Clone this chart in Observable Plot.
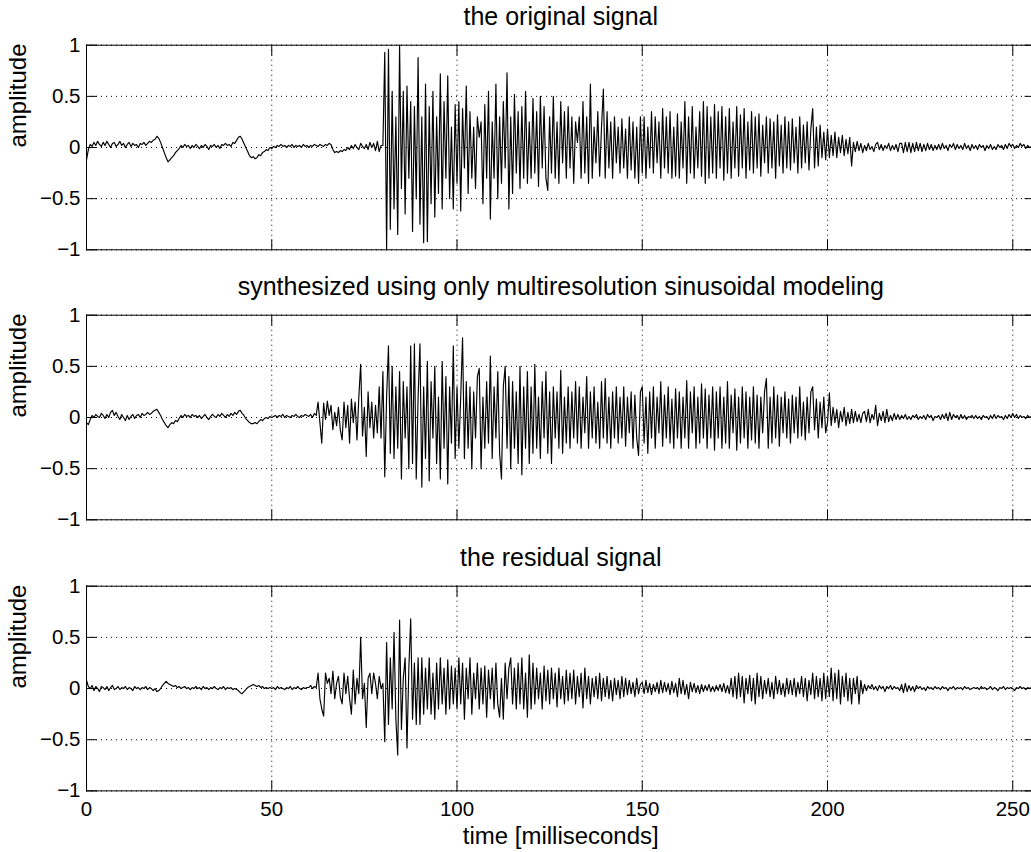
<!DOCTYPE html>
<html>
<head>
<meta charset="utf-8">
<script src="https://cdn.jsdelivr.net/npm/d3@7"></script>
<script src="https://cdn.jsdelivr.net/npm/@observablehq/plot@0.6"></script>
<style>
html, body { margin: 0; padding: 0; background: #fff; }
#fig { position: relative; width: 1031px; height: 852px; overflow: hidden; background: #fff; }
.panel { position: absolute; left: 0; }
</style>
</head>
<body>
<div id="fig"></div>
<script>
// ---- chart text ----
const titles = [
  "the original signal",
  "synthesized using only multiresolution sinusoidal modeling",
  "the residual signal"
];
const yLabel = "amplitude";
const xLabel = "time [milliseconds]";
const xTicks = [0, 50, 100, 150, 200, 250];
const yTicks = [-1, -0.5, 0, 0.5, 1];
const xDomain = [0, 256];
const yDomain = [-1, 1];
const sampleStepMs = 0.5; // one value every 0.5 ms

// ---- waveform values (one row = 10 ms) ----
const original = [
  -0.12,-0.02,0.03,0.01,0.05,0.02,0.06,0.03,0.01,0.05,0.02,0.06,0.03,0.0,0.04,0.05,0.01,0.03,0.06,0.02,
  0.04,0.0,0.03,0.05,0.01,0.04,0.02,0.03,0.0,0.04,0.03,0.05,0.02,0.04,0.06,0.05,0.07,0.08,0.11,0.09,
  0.05,0.0,-0.05,-0.1,-0.14,-0.12,-0.1,-0.08,-0.05,-0.03,-0.01,0.02,0.0,0.03,0.01,0.02,-0.01,0.02,0.0,0.03,
  0.01,-0.01,0.02,0.0,0.03,0.01,-0.02,0.02,0.01,0.03,0.0,0.02,-0.01,0.03,0.02,0.04,0.02,0.03,0.01,0.05,
  0.04,0.07,0.1,0.11,0.08,0.04,0.0,-0.04,-0.08,-0.1,-0.09,-0.11,-0.1,-0.07,-0.08,-0.05,-0.04,-0.02,-0.03,0.0,
  -0.01,0.01,0.0,0.02,0.01,0.03,0.01,0.02,0.0,0.02,0.01,0.03,0.0,0.02,0.01,0.02,0.0,0.03,0.01,0.02,
  0.0,0.02,0.01,0.03,0.02,0.01,0.03,0.02,0.01,0.03,0.02,0.04,0.03,-0.02,-0.05,-0.04,-0.05,-0.03,-0.04,-0.02,
  -0.03,0.0,-0.02,0.02,-0.01,0.03,0.0,-0.02,0.04,0.01,-0.01,0.03,-0.02,0.05,0.0,0.04,-0.03,0.06,-0.04,0.02,
  0.02,0.93,-1.0,0.96,-0.8,0.55,-0.6,0.3,-0.85,1.0,-0.4,0.55,-0.65,0.6,-0.3,0.45,-0.82,0.4,-0.5,0.88,
  -0.75,0.3,-0.93,0.62,-0.92,0.4,-0.55,0.55,-0.68,0.3,-0.45,0.72,-0.6,0.45,-0.3,0.7,-0.5,0.2,-0.6,0.42,
  -0.35,0.45,-0.62,0.38,-0.2,0.6,-0.45,0.35,-0.3,0.2,-0.4,0.3,0.1,0.25,-0.55,0.42,-0.3,0.55,-0.7,0.25,
  -0.3,0.62,-0.5,0.3,-0.35,0.45,-0.2,0.73,-0.6,0.3,-0.45,0.52,-0.25,0.35,-0.4,0.4,-0.3,0.55,-0.35,0.25,
  -0.3,0.48,-0.25,0.35,-0.38,0.5,-0.2,0.4,-0.3,-0.42,0.3,-0.25,0.5,-0.3,0.25,-0.35,0.45,-0.15,0.35,-0.3,
  0.4,-0.2,0.3,-0.35,0.25,0.05,0.3,-0.3,0.45,-0.25,0.3,-0.35,0.62,-0.3,0.2,-0.15,0.35,-0.28,0.2,0.57,
  -0.3,0.35,-0.2,0.25,-0.3,0.3,-0.15,0.2,-0.25,0.28,-0.2,0.18,-0.3,0.3,-0.22,0.25,-0.3,0.2,-0.35,0.3,
  -0.25,0.3,-0.3,0.2,-0.2,0.35,-0.25,0.3,-0.15,0.25,-0.3,0.38,-0.2,0.3,-0.25,0.35,-0.3,0.2,-0.28,0.33,
  -0.3,0.25,-0.2,0.45,-0.35,0.3,-0.25,0.4,-0.3,0.2,-0.2,0.35,-0.28,0.45,-0.35,0.4,-0.3,0.3,-0.25,0.42,
  -0.3,0.35,-0.2,0.4,-0.32,0.3,-0.25,0.38,-0.3,0.25,-0.2,0.4,-0.28,0.32,-0.2,0.38,-0.3,0.25,-0.22,0.35,
  -0.25,0.3,-0.2,0.33,-0.28,0.22,-0.15,0.3,-0.25,0.28,-0.2,0.25,-0.3,0.32,-0.18,0.22,-0.25,0.3,-0.2,0.25,
  -0.22,0.28,-0.15,0.2,-0.25,0.3,-0.2,0.22,-0.15,0.25,-0.22,0.18,0.38,-0.2,0.2,-0.18,0.22,-0.1,0.15,-0.12,
  0.18,-0.1,0.12,-0.08,0.15,-0.1,0.1,-0.05,0.12,-0.08,0.08,-0.06,0.1,-0.18,0.05,-0.04,0.06,-0.03,0.04,-0.05,
  0.02,-0.03,0.04,-0.02,0.01,-0.04,0.03,0.05,-0.02,0.03,-0.03,0.02,-0.01,0.04,-0.03,0.02,-0.02,0.03,-0.04,0.04,
  0.04,-0.05,0.05,-0.04,0.05,-0.05,0.04,-0.04,0.05,-0.03,0.04,-0.04,0.03,-0.03,0.04,-0.02,0.03,-0.03,0.02,-0.02,
  0.03,-0.02,0.04,-0.01,0.02,-0.03,0.03,0.0,0.04,-0.02,0.03,-0.01,0.02,-0.02,0.04,-0.01,0.02,-0.03,0.03,-0.01,
  0.02,-0.02,0.03,0.0,0.02,-0.03,0.02,-0.01,0.03,-0.02,0.01,-0.02,0.03,0.0,0.02,-0.02,0.03,-0.01,0.04,0.01,
  0.03,-0.01,0.02,0.0,0.04,0.01,0.03,-0.01,0.02,0.0,0.01,0.02,0.0
];

const synthesized = [
  -0.05,-0.07,-0.02,0.02,0.0,0.03,0.01,0.0,0.04,0.02,-0.01,0.03,0.0,0.05,0.07,0.02,0.05,0.01,-0.02,0.03,
  0.0,-0.03,0.02,-0.02,0.01,0.03,-0.01,0.02,0.03,0.0,0.04,0.02,0.03,0.05,0.03,0.04,0.06,0.07,0.08,0.05,
  0.02,-0.02,-0.05,-0.08,-0.1,-0.07,-0.05,-0.06,-0.03,-0.04,-0.01,0.02,0.0,0.03,0.01,0.02,0.0,0.03,0.01,0.02,
  0.0,0.02,-0.01,0.01,0.03,0.0,-0.02,0.01,0.03,0.01,0.0,0.03,0.01,0.04,0.02,0.0,0.03,0.01,0.04,0.02,
  0.05,0.03,0.06,0.07,0.04,0.02,-0.01,-0.03,-0.05,-0.06,-0.06,-0.05,-0.06,-0.04,-0.02,-0.03,-0.01,0.0,-0.01,0.01,
  0.0,0.01,0.02,0.0,0.02,0.01,0.03,0.0,0.02,0.01,0.0,0.02,0.01,0.03,0.01,0.0,0.02,0.01,0.03,0.02,
  0.01,0.03,0.0,0.04,0.02,0.15,-0.05,-0.25,0.14,-0.02,0.16,0.02,0.12,-0.12,0.05,-0.08,0.1,-0.12,-0.22,0.15,
  -0.1,0.12,-0.25,0.18,-0.05,0.15,-0.22,0.2,0.52,-0.18,0.1,-0.38,0.25,-0.1,0.15,-0.2,0.12,-0.15,0.3,-0.2,
  0.45,-0.58,0.2,0.7,-0.35,0.5,-0.4,0.3,-0.3,0.45,-0.6,0.35,-0.2,0.3,-0.5,0.7,-0.45,0.72,-0.6,0.2,
  0.72,-0.68,0.3,-0.4,0.55,-0.62,0.35,-0.2,0.5,-0.45,0.2,-0.6,0.55,-0.3,0.4,-0.65,0.3,-0.25,0.7,-0.4,
  0.3,-0.3,0.2,0.78,-0.4,0.35,-0.3,0.3,-0.5,0.25,-0.2,0.4,0.48,-0.5,0.2,-0.3,0.35,-0.25,0.6,-0.4,
  0.3,-0.2,0.45,-0.35,-0.6,0.3,0.5,-0.3,0.4,-0.5,0.35,-0.3,0.25,-0.45,0.5,-0.56,0.3,-0.3,0.45,-0.45,
  0.3,-0.35,0.52,-0.3,0.2,-0.4,0.35,-0.2,0.45,-0.35,0.25,-0.45,0.3,-0.2,0.25,-0.3,0.46,-0.35,0.2,-0.25,
  0.3,-0.3,0.25,-0.2,0.35,-0.25,0.3,-0.3,0.2,-0.15,0.4,-0.3,0.25,-0.2,0.3,-0.25,0.15,-0.3,0.35,-0.2,
  0.38,-0.25,0.2,-0.3,0.25,-0.2,0.3,-0.25,0.2,-0.2,0.3,-0.28,0.2,-0.15,0.25,-0.3,0.22,-0.2,-0.37,0.25,
  0.3,-0.25,0.2,-0.35,0.25,-0.2,0.3,-0.3,0.2,-0.15,0.35,-0.28,0.22,-0.2,0.3,-0.25,0.18,-0.3,0.28,-0.2,
  0.25,-0.3,0.2,-0.2,0.36,-0.3,0.25,-0.15,0.3,-0.3,0.2,-0.25,0.33,-0.2,0.28,-0.3,0.22,-0.2,0.3,-0.32,
  0.25,-0.2,0.3,-0.3,0.2,-0.25,0.35,-0.3,0.22,-0.15,0.28,-0.32,0.2,-0.25,0.3,-0.2,0.25,-0.3,0.2,-0.22,
  0.3,-0.25,0.22,-0.3,0.2,-0.15,0.25,0.38,-0.3,0.2,-0.25,0.3,-0.2,0.22,-0.28,0.2,-0.15,0.25,-0.2,0.18,
  -0.25,0.22,-0.15,0.2,-0.2,0.3,-0.18,0.15,-0.22,0.2,-0.15,0.25,0.3,-0.12,0.18,-0.2,0.15,-0.1,0.2,-0.15,
  -0.05,0.24,-0.08,0.1,-0.05,0.08,-0.1,0.06,-0.04,0.1,-0.08,0.05,-0.06,0.08,-0.05,0.06,-0.04,0.03,-0.05,0.04,
  0.06,-0.04,0.08,-0.05,0.03,-0.02,0.12,-0.08,0.04,-0.03,0.06,-0.05,0.08,-0.04,0.02,-0.03,0.04,-0.02,0.03,-0.02,
  0.02,-0.01,0.03,-0.02,0.01,-0.02,0.02,0.0,0.03,-0.02,0.01,-0.01,0.02,-0.02,0.03,0.0,0.02,-0.03,0.01,0.0,
  0.02,-0.02,0.03,-0.01,0.04,-0.03,0.05,-0.02,0.03,0.0,0.02,-0.02,0.03,-0.01,0.02,-0.02,0.01,0.0,0.02,-0.01,
  0.02,-0.01,0.01,-0.02,0.02,0.0,0.01,-0.02,0.02,-0.01,0.03,-0.01,0.02,0.0,0.01,-0.02,0.02,-0.01,0.03,0.0,
  0.04,0.0,0.03,-0.01,0.02,0.0,0.01,-0.01,0.02,0.0,0.01,0.0,0.0
];

const residual = [
  0.08,0.02,0.0,0.03,-0.02,0.02,0.0,-0.03,0.02,0.01,-0.01,0.02,-0.02,0.01,0.03,-0.01,0.0,0.02,-0.01,0.01,
  0.0,0.02,-0.01,0.01,0.0,-0.02,0.02,0.0,0.01,-0.01,0.01,0.0,0.02,-0.01,0.01,0.0,-0.02,0.0,-0.03,-0.02,
  0.0,0.03,0.05,0.07,0.05,0.04,0.03,0.02,0.03,0.01,0.02,0.0,0.01,0.02,0.0,0.01,-0.01,0.01,0.0,0.02,
  0.0,0.01,-0.01,0.02,0.0,0.01,-0.01,0.01,0.0,0.02,0.0,-0.01,0.01,0.0,0.02,-0.01,0.01,0.0,0.01,-0.01,
  0.0,-0.01,-0.02,-0.04,-0.05,-0.03,-0.01,0.01,0.02,0.03,0.04,0.03,0.02,0.03,0.01,0.02,0.0,0.01,0.0,0.01,
  0.0,0.01,-0.01,0.02,0.0,0.01,0.0,-0.01,0.01,0.0,0.02,-0.01,0.01,0.0,0.02,0.0,-0.01,0.01,0.0,0.01,
  0.01,0.03,0.0,0.02,0.01,0.15,-0.1,-0.2,-0.27,0.15,0.05,0.1,-0.05,0.17,-0.1,0.05,0.12,-0.08,-0.15,0.15,
  -0.05,0.12,-0.1,-0.25,0.18,-0.15,0.1,-0.05,0.5,-0.1,0.05,-0.38,0.1,0.15,-0.05,0.15,0.05,-0.1,0.12,0.0,
  0.05,-0.52,0.45,-0.35,0.3,-0.2,0.55,-0.3,-0.65,0.67,-0.4,0.1,0.3,-0.58,0.2,0.68,-0.3,0.25,-0.35,0.3,
  -0.35,0.3,-0.25,0.2,-0.2,0.3,-0.25,0.15,-0.3,0.25,-0.2,0.3,-0.15,0.2,-0.25,0.28,-0.2,0.22,-0.15,0.2,
  -0.2,0.3,-0.15,0.25,-0.3,0.2,-0.1,0.3,-0.25,0.15,-0.1,0.25,-0.2,0.2,-0.15,0.22,-0.28,0.18,-0.1,0.2,
  -0.2,0.25,-0.15,-0.28,0.1,-0.3,0.25,-0.1,0.2,0.3,-0.15,0.2,-0.2,0.25,-0.15,0.3,-0.2,0.15,-0.28,0.33,
  -0.2,0.25,-0.15,0.2,-0.1,0.15,-0.2,0.22,-0.12,0.18,-0.15,0.2,-0.1,0.15,-0.18,0.2,-0.1,0.12,-0.15,0.18,
  -0.12,0.15,-0.1,0.18,-0.15,0.12,-0.08,0.15,-0.19,0.2,-0.1,0.12,-0.15,0.1,-0.08,0.12,-0.1,0.15,-0.12,0.1,
  -0.08,0.12,-0.1,0.08,-0.12,0.1,-0.06,0.08,-0.1,0.12,-0.08,0.1,-0.06,0.08,-0.05,0.06,-0.08,0.1,-0.05,0.04,
  0.06,-0.05,0.08,-0.04,0.05,-0.06,0.04,-0.03,0.06,-0.05,0.08,-0.04,0.06,-0.03,0.05,-0.06,0.07,-0.04,0.05,-0.08,
  0.1,-0.05,0.08,-0.06,0.04,-0.1,0.06,-0.03,0.05,-0.04,0.03,-0.05,0.04,-0.03,0.03,-0.02,0.04,-0.03,0.02,-0.03,
  0.03,-0.02,0.04,-0.03,0.05,-0.04,0.03,-0.05,0.1,-0.08,0.12,-0.1,0.15,-0.08,0.12,-0.14,0.1,-0.05,0.13,-0.12,
  0.1,-0.15,0.15,-0.08,0.12,-0.1,0.08,-0.05,0.1,-0.08,0.06,-0.1,0.12,-0.05,0.08,-0.06,0.05,-0.08,0.1,-0.05,
  0.08,-0.06,0.1,-0.08,0.06,-0.05,0.12,-0.08,0.1,-0.12,0.08,-0.06,0.15,-0.1,0.12,-0.08,0.1,-0.12,0.15,-0.1,
  0.12,-0.08,0.2,-0.12,0.15,-0.1,0.18,-0.15,0.12,-0.08,0.15,-0.12,0.1,-0.15,0.1,-0.05,0.12,-0.15,0.08,-0.05,
  0.04,-0.02,0.03,0.0,0.04,-0.01,0.02,-0.02,0.03,0.0,0.02,-0.03,0.02,0.0,0.03,-0.01,0.02,0.0,0.01,-0.02,
  0.04,-0.04,0.05,-0.03,0.03,-0.02,0.02,-0.03,0.03,0.0,0.02,-0.01,0.01,-0.02,0.02,0.0,0.01,-0.01,0.02,0.0,
  0.01,-0.01,0.02,0.0,0.01,-0.02,0.01,0.0,0.02,-0.01,0.01,0.0,0.01,-0.01,0.02,0.0,0.01,-0.01,0.0,0.01,
  0.0,0.01,-0.01,0.02,0.0,0.01,-0.01,0.0,0.02,-0.01,0.01,0.0,-0.02,0.01,0.0,0.02,-0.01,0.01,0.0,0.01,
  0.0,-0.02,0.01,0.0,0.02,0.0,0.01,-0.01,0.01,0.0,0.01,0.0,0.0
];

// ---- drawing ----
const FONT = "'Liberation Sans', Arial, Helvetica, sans-serif";
const fmtTick = d => (d < 0 ? "\u2212" : "") + Math.abs(d);
const toRows = vals => vals.map((v, i) => ({t: i * sampleStepMs, v}));
const tickShape = { draw(context, l) { context.moveTo(0, 0); context.lineTo(0, -l); } };
const dotted = {stroke: "black", strokeWidth: 1, strokeDasharray: "1,4"};

const panelSpecs = [
  {title: titles[0], values: original,    top: 0,     height: 280,   marginBottom: 30.7, showX: false},
  {title: titles[1], values: synthesized, top: 270,   height: 280,   marginBottom: 30.7, showX: false},
  {title: titles[2], values: residual,    top: 541.3, height: 310.7, marginBottom: 61.3, showX: true}
];

const fig = document.getElementById("fig");

for (const p of panelSpecs) {
  const marks = [
    Plot.ruleY(yTicks, dotted),
    Plot.ruleX(xTicks, dotted),
    Plot.line(toRows(p.values), {x: "t", y: "v", stroke: "black", strokeWidth: 1.15}),
    Plot.frame({stroke: "black", strokeWidth: 1}),
    Plot.vector(xTicks, {x: d => d, frameAnchor: "bottom", length: 10, anchor: "start", rotate: 0, shape: tickShape, stroke: "black", strokeWidth: 1}),
    Plot.vector(xTicks, {x: d => d, frameAnchor: "top", length: 10, anchor: "start", rotate: 180, shape: tickShape, stroke: "black", strokeWidth: 1}),
    Plot.vector(yTicks, {y: d => d, frameAnchor: "left", length: 10, anchor: "start", rotate: 90, shape: tickShape, stroke: "black", strokeWidth: 1}),
    Plot.vector(yTicks, {y: d => d, frameAnchor: "right", length: 10, anchor: "start", rotate: -90, shape: tickShape, stroke: "black", strokeWidth: 1}),
    Plot.axisY({ticks: yTicks, tickFormat: fmtTick, tickSize: 0, tickPadding: 6, fontSize: 20.5, label: null}),
    Plot.text([p.title], {text: d => d, frameAnchor: "top", dy: -20, lineAnchor: "bottom", fontSize: 25, fill: "black"}),
    Plot.text([yLabel], {text: d => d, frameAnchor: "left", rotate: -90, dx: -68, fontSize: 24, fill: "black"})
  ];
  if (p.showX) {
    marks.push(Plot.axisX({ticks: xTicks, tickFormat: fmtTick, tickSize: 0, tickPadding: 11, fontSize: 20.5, label: null}));
    marks.push(Plot.text([xLabel], {text: d => d, frameAnchor: "bottom", dy: 53.5, lineAnchor: "bottom", fontSize: 24, fill: "black"}));
  }
  const chart = Plot.plot({
    width: 1031,
    height: p.height,
    marginLeft: 86,
    marginRight: -3.5,
    marginTop: 44.7,
    marginBottom: p.marginBottom,
    x: {domain: xDomain, axis: p.showX ? undefined : null},
    y: {domain: yDomain},
    style: {fontFamily: FONT, background: "transparent", color: "black"},
    marks
  });
  const holder = document.createElement("div");
  holder.className = "panel";
  holder.style.top = p.top + "px";
  holder.appendChild(chart);
  fig.appendChild(holder);
}
</script>
</body>
</html>
